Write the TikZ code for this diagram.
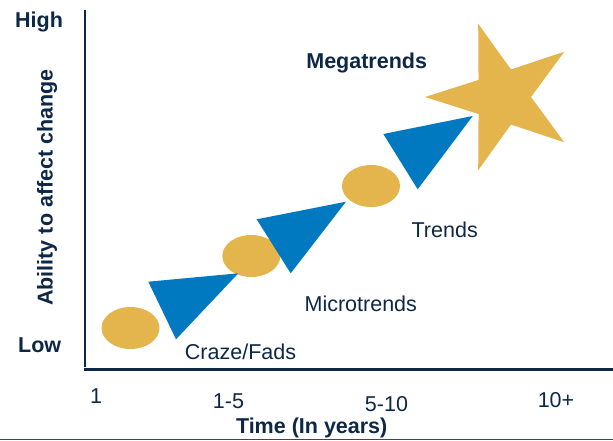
\documentclass[tikz,border=0pt]{standalone}
\usepackage{fontspec}
\setmainfont{Liberation Sans}
\usetikzlibrary{calc, shapes.geometric}
\usetikzlibrary{positioning}

\definecolor{navy}{HTML}{0D2747}
\definecolor{trendblue}{HTML}{0079C1}
\definecolor{fadgold}{HTML}{E3B54C}
\definecolor{rulegrey}{HTML}{2B4A6B}

\begin{document}
\begin{tikzpicture}[x=1pt, y=-1pt,
        txt/.style={text=navy, inner sep=0pt, font=\fontsize{21.5}{24}\selectfont},
        boldtxt/.style={txt, font=\fontsize{21.5}{24}\selectfont\bfseries},
        fad/.style={ellipse, fill=fadgold, minimum width=58pt, minimum height=42pt, inner sep=0pt},
        wedge/.style={fill=trendblue}]
            \useasboundingbox (0,0) rectangle (613,441);

            % axes
            \coordinate (ytop) at (85,10);
            \coordinate (ybot) at (85,367);
            \coordinate (xleft) at (84,369.5);
            \coordinate (xright) at (613,369.5);
            \coordinate (ruleL) at (0,439.6);
            \coordinate (ruleR) at (613,439.6);
            \draw[navy, line width=2.7pt] (ytop) -- (ybot);
            \draw[navy, line width=2.7pt] (xleft) -- (xright);
            \draw[rulegrey, line width=1.4pt] (ruleL) -- (ruleR);

            \node[boldtxt] (high) at (39,22) {High};
            \node[boldtxt] (low) at (39.7,345) {Low};
            \node[boldtxt, rotate=90] (ylabel) at (47,187.5) {Ability to affect change};

            \node[txt] (t1) at (96,396.5) {1};
            \node[txt] (t2) at (228.5,401.5) {1-5};
            \node[txt] (t3) at (386.5,404) {5-10};
            \node[txt] (t4) at (556,400.5) {10+};
            \node[boldtxt] (xlabel) at (311.7,427.5) {Time (In years)};

            % shapes
            \node[fad] (fad1) at (130.5,328) {};
            \node[fad] (fad2) at (251.3,256) {};
            \node[fad] (fad3) at (371,186) {};

            \fill[wedge] (148.3,281.7) -- (238.3,273.3) -- (176,339.3) -- cycle;
            \fill[wedge] (256.7,219.3) -- (346,201.7) -- (290.7,273.3) -- cycle;
            \fill[wedge] (383.3,134) -- (472.7,116) -- (417.7,189.3) -- cycle;

            \coordinate (mega) at (502,97);
            \fill[fadgold] ($(mega)+(180:77)$) -- ($(mega)+(144:29)$) -- ($(mega)+(108:77)$)
                -- ($(mega)+(72:29)$) -- ($(mega)+(36:77)$) -- ($(mega)+(0:29)$)
                -- ($(mega)+(-36:77)$) -- ($(mega)+(-72:29)$) -- ($(mega)+(-108:77)$)
                -- ($(mega)+(-144:29)$) -- cycle;

            \node[txt] (craze) at (240.5,351.5) {Craze/Fads};
            \node[txt] (micro) at (360.8,304) {Microtrends};
            \node[txt] (trends) at (444.7,230) {Trends};
            \node[boldtxt] (megatr) at (366.7,63.3) {Megatrends};
        \end{tikzpicture}
\end{document}
